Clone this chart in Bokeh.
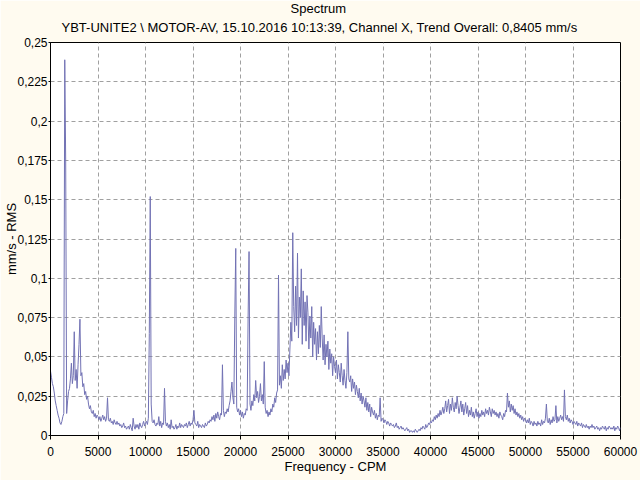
from bokeh.plotting import figure
from bokeh.models import FixedTicker, CustomJSTickFormatter, Range1d, Title
from bokeh.embed import file_html
from bokeh.resources import INLINE

# ---- data (amplitude in 0.001 mm/s RMS, one value per 100 CPM bin) ----
freq_step = 100
amp_0_10k = [
    41, 37, 33, 31, 27, 22, 19, 16, 13, 11,
    8, 7, 9, 12, 14, 239, 174, 14, 22, 28,
    30, 36, 46, 33, 38, 66, 35, 42, 30, 45,
    58, 74, 38, 40, 31, 33, 26, 28, 23, 25,
    20, 17, 19, 15, 14, 16, 12, 14, 11, 13,
    12, 10, 12, 9, 11, 13, 10, 12, 9, 11,
    24, 10, 9, 11, 8, 9, 7, 10, 8, 7,
    9, 7, 8, 6, 7, 5, 6, 8, 5, 6,
    4, 5, 6, 4, 7, 5, 3, 11, 6, 4,
    7, 5, 7, 4, 8, 6, 5, 7, 9, 6,
]
amp_10k_20k = [
    8, 9, 7, 11, 65, 152, 20, 9, 8, 10,
    7, 6, 8, 7, 12, 6, 9, 5, 8, 7,
    30, 9, 6, 8, 5, 7, 4, 10, 5, 6,
    4, 5, 7, 4, 6, 5, 8, 5, 7, 6,
    5, 7, 6, 8, 5, 7, 9, 6, 8, 7,
    10, 16, 8, 7, 6, 9, 5, 7, 6, 5,
    7, 6, 5, 8, 6, 7, 9, 8, 10, 9,
    12, 10, 13, 9, 14, 11, 15, 12, 10, 14,
    13, 45, 16, 12, 15, 14, 17, 15, 19, 22,
    28, 34, 24, 20, 76, 119, 18, 15, 17, 13,
]
amp_20k_30k = [
    16, 12, 15, 11, 14, 13, 17, 16, 75, 117,
    20, 16, 22, 19, 26, 22, 35, 24, 28, 21,
    25, 33, 22, 26, 20, 47, 18, 14, 16, 12,
    15, 13, 17, 15, 20, 18, 24, 21, 27, 29,
    102, 32, 38, 30, 45, 35, 42, 36, 48, 40,
    46, 38, 55, 72, 60, 129, 82, 66, 95, 70,
    116, 62, 88, 75, 106, 58, 92, 70, 85, 60,
    89, 78, 55, 76, 62, 82, 50, 72, 58, 68,
    48, 66, 52, 70, 56, 82, 62, 48, 64, 45,
    58, 50, 60, 42, 55, 46, 52, 38, 50, 44,
]
amp_30k_40k = [
    40, 48, 36, 45, 40, 34, 46, 38, 32, 42,
    35, 30, 40, 66, 36, 34, 38, 28, 36, 30,
    34, 26, 32, 28, 24, 30, 22, 27, 20, 25,
    22, 18, 24, 16, 21, 15, 20, 12, 18, 15,
    13, 16, 11, 14, 10, 13, 12, 24, 9, 11,
    10, 8, 10, 9, 7, 9, 8, 6, 8, 7,
    6, 7, 5, 6, 8, 5, 6, 4, 5, 6,
    4, 5, 4, 3, 4, 5, 3, 4, 2, 3,
    3, 2, 3, 2, 4, 3, 2, 3, 4, 3,
    5, 4, 6, 5, 4, 7, 5, 6, 8, 7,
]
amp_40k_50k = [
    9, 8, 10, 9, 12, 10, 13, 11, 14, 12,
    16, 13, 15, 18, 14, 17, 22, 15, 19, 23,
    14, 20, 16, 24, 18, 15, 21, 17, 25, 19,
    14, 18, 22, 15, 20, 13, 17, 21, 14, 19,
    12, 16, 13, 18, 12, 15, 11, 14, 17, 12,
    15, 11, 14, 12, 16, 13, 15, 12, 17, 14,
    16, 13, 18, 15, 12, 17, 14, 16, 13, 15,
    12, 14, 11, 15, 13, 12, 10, 14, 12, 16,
    15, 27, 18, 22, 15, 20, 16, 19, 14, 17,
    13, 15, 12, 14, 11, 13, 10, 12, 9, 11,
]
amp_50k_60k = [
    10, 8, 10, 8, 11, 7, 9, 8, 6, 9,
    7, 8, 6, 9, 7, 8, 6, 10, 7, 9,
    8, 11, 20, 9, 8, 11, 7, 10, 8, 12,
    9, 10, 19, 8, 12, 9, 11, 13, 10, 12,
    9, 29, 12, 10, 13, 9, 11, 8, 10, 9,
    7, 9, 8, 7, 9, 6, 8, 7, 6, 8,
    5, 7, 6, 5, 7, 5, 6, 4, 6, 5,
    7, 5, 6, 4, 5, 6, 4, 5, 3, 5,
    4, 6, 5, 4, 6, 3, 5, 4, 6, 5,
    4, 5, 4, 6, 3, 5, 4, 6, 5, 3,
    5,
]

x_ticks = [0, 5000, 10000, 15000, 20000, 25000, 30000, 35000, 40000, 45000, 50000, 55000, 60000]
y_ticks = [0, 0.025, 0.05, 0.075, 0.1, 0.125, 0.15, 0.175, 0.2, 0.225, 0.25]

title_1 = "Spectrum"
title_2 = "YBT-UNITE2 \\ MOTOR-AV, 15.10.2016 10:13:39, Channel X, Trend Overall: 0,8405 mm/s"
x_label = "Frequency - CPM"
y_label = "mm/s - RMS"

amp_milli = amp_0_10k + amp_10k_20k + amp_20k_30k + amp_30k_40k + amp_40k_50k + amp_50k_60k
amp = [v / 1000.0 for v in amp_milli]
freq = [i * freq_step for i in range(len(amp))]

# ---- style ----
FONT = "Liberation Sans"
BG = "#FFFBF0"
LINE = "#7272B4"

W, H = 640, 480
p = figure(width=W, height=H, output_backend="svg", toolbar_location=None, title=None,
           x_range=Range1d(0, 60000), y_range=Range1d(0, 0.25),
           min_border_left=50, min_border_right=20, min_border_top=42, min_border_bottom=45)
p.border_fill_color = BG
p.background_fill_color = "white"
p.outline_line_color = "black"
p.outline_line_width = 1
p.outline_line_alpha = 1

p.line(freq, amp, line_color=LINE, line_width=1)

for ax in (p.xaxis[0], p.yaxis[0]):
    ax.axis_line_color = "black"
    ax.major_tick_line_color = "black"
    ax.minor_tick_line_color = None
    ax.major_tick_in = 0
    ax.major_label_text_font = FONT
    ax.major_label_text_font_size = "12px"
    ax.major_label_text_color = "black"
    ax.axis_label_text_font = FONT
    ax.axis_label_text_font_size = "13px"
    ax.axis_label_text_font_style = "normal"
    ax.axis_label_text_color = "black"

p.xaxis[0].ticker = FixedTicker(ticks=x_ticks)
p.xaxis[0].major_tick_out = 4
p.xaxis[0].major_label_standoff = 7
p.xaxis[0].axis_label = x_label
p.xaxis[0].axis_label_standoff = 0

p.yaxis[0].ticker = FixedTicker(ticks=y_ticks)
p.yaxis[0].major_tick_out = 2
p.yaxis[0].major_label_standoff = 1
p.yaxis[0].axis_label = y_label
p.yaxis[0].axis_label_standoff = -5
p.yaxis[0].formatter = CustomJSTickFormatter(
    code="return tick.toFixed(3).replace(/\\.?0+$/, '').replace('.', ',');")

for g in (p.xgrid[0], p.ygrid[0]):
    g.grid_line_color = "#A0A0A0"
    g.grid_line_dash = "4 3"
    g.grid_line_width = 1
p.xgrid[0].ticker = FixedTicker(ticks=x_ticks)
p.ygrid[0].ticker = FixedTicker(ticks=y_ticks)

# two title lines: the subtitle nearest the frame, "Spectrum" above it
p.add_layout(Title(text=title_2, align="left", offset=11, vertical_align="top",
                   standoff=12, text_font=FONT, text_font_size="13px",
                   text_font_style="normal", text_color="black"), "above")
p.add_layout(Title(text=title_1, align="left", offset=240, vertical_align="bottom",
                   standoff=-4, text_font=FONT, text_font_size="13px",
                   text_font_style="normal", text_color="black"), "above")

open("out.html", "w").write(file_html(p, INLINE))
